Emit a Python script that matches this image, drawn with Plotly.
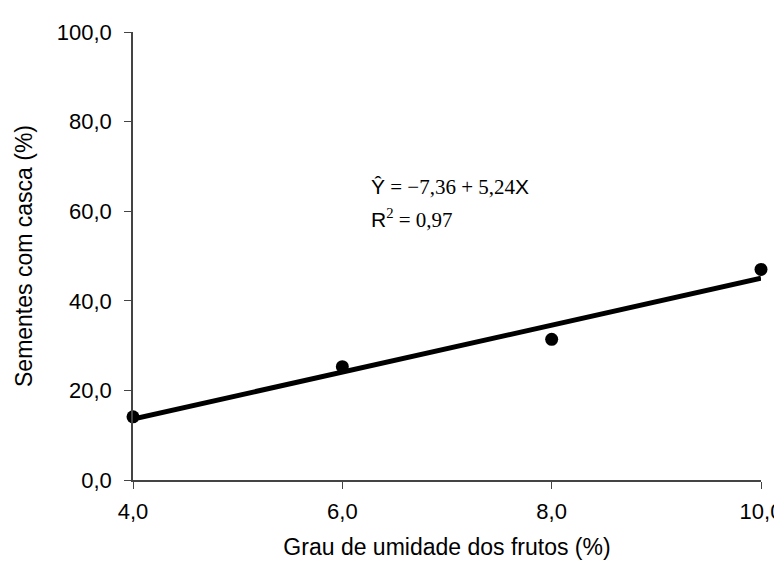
import plotly.graph_objects as go

x_vals = [4, 6, 8, 10]
y_vals = [14.1, 25.3, 31.4, 47.0]
intercept = -7.36
slope = 5.24
fit_x = [4, 10]
fit_y = [intercept + slope * v for v in fit_x]
x_ticks = [4, 6, 8, 10]
y_ticks = [0, 20, 40, 60, 80, 100]

fig = go.Figure()
fig.add_trace(go.Scatter(x=fit_x, y=fit_y, mode="lines",
                         line=dict(color="black", width=5), cliponaxis=False,
                         showlegend=False))
fig.add_trace(go.Scatter(x=x_vals, y=y_vals, mode="markers",
                         marker=dict(color="black", size=13), cliponaxis=False,
                         showlegend=False))

tick_font = dict(family="Arial, Liberation Sans", size=22, color="black")
title_font = dict(family="Arial, Liberation Sans", size=23, color="black")
fig.update_layout(
    width=782, height=566,
    margin=dict(l=125, r=29, t=18, b=94),
    paper_bgcolor="white", plot_bgcolor="white",
    separators=",.",
    font=tick_font,
    xaxis=dict(range=[4, 10], tickvals=x_ticks, tickformat=".1f",
               showline=True, linecolor="#444", linewidth=1.5,
               ticks="outside", ticklen=7, tickcolor="#444", showgrid=False,
               zeroline=False, tickfont=tick_font, ticklabelstandoff=4,
               automargin=False,
               title=dict(text="Grau de umidade dos frutos (%)", font=title_font, standoff=16)),
    yaxis=dict(range=[0, 100], tickvals=y_ticks, tickformat=".1f",
               showline=True, linecolor="#444", linewidth=1.5,
               ticks="outside", ticklen=7, tickcolor="#444", showgrid=False,
               zeroline=False, tickfont=tick_font, ticklabelstandoff=8,
               automargin=True,
               title=dict(text="Sementes com casca (%)", font=title_font, standoff=18)),
)

fig.add_annotation(
    x=6.25, y=65.3, xref="x", yref="y", xanchor="left", yanchor="middle",
    showarrow=False, align="left",
    text="<span style='font-family:Arial'>Ŷ</span> = −7,36 + 5,24<span style='font-family:Arial'>X</span>",
    font=dict(family="Times New Roman, Liberation Serif", size=21, color="black"))
fig.add_annotation(
    x=6.25, y=58.3, xref="x", yref="y", xanchor="left", yanchor="middle",
    showarrow=False, align="left",
    text="<span style='font-family:Arial'>R</span><sup>2</sup> = 0,97",
    font=dict(family="Times New Roman, Liberation Serif", size=21, color="black"))

fig.write_html("out.html")
